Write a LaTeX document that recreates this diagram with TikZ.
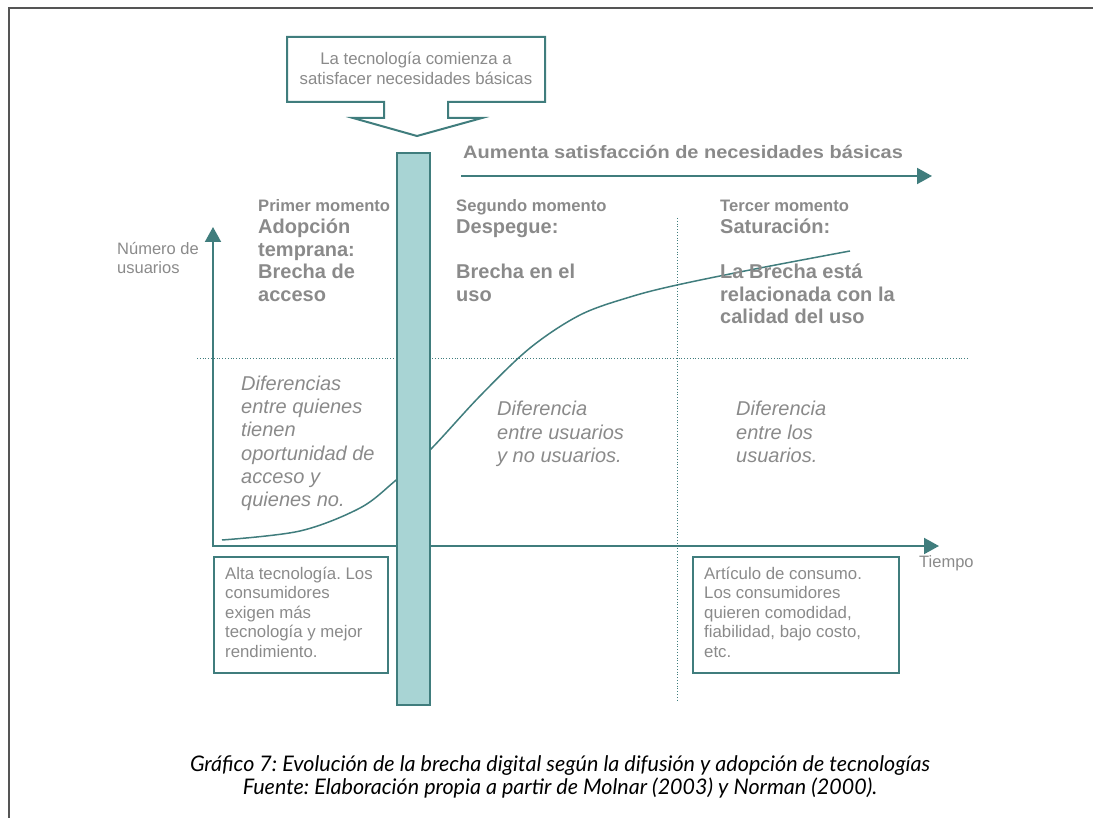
\documentclass[tikz,border=0pt]{standalone}
\usepackage{fontspec}
\setmainfont{Liberation Sans}
\newfontfamily\capfont{Lato}
\usetikzlibrary{arrows.meta}
\definecolor{teal1}{RGB}{64,125,125}
\definecolor{barfill}{RGB}{168,212,212}
\definecolor{txtgray}{RGB}{138,138,138}
\definecolor{framegray}{RGB}{85,85,85}
\newcommand{\ml}[1]{\begin{tabular}[t]{@{}l@{}}#1\end{tabular}}
\frenchspacing
\tikzset{
  tline/.style={draw=teal1, line width=2pt},
  tarrow/.style={draw=teal1, line width=2pt, -{Triangle[length=15pt,width=16pt,fill=teal1]}},
  dotline/.style={draw=teal1, line width=0.8pt, dotted},
  txt/.style={inner sep=0pt, anchor=base west, text=txtgray},
  momento/.style={txt, font=\bfseries\fontsize{16.6}{19}\selectfont},
  head/.style={txt, font=\bfseries\fontsize{20}{22.5}\selectfont},
  diff/.style={txt, font=\itshape\fontsize{20}{23.2}\selectfont},
  boxtxt/.style={txt, font=\fontsize{16.8}{19.5}\selectfont},
  infobox/.style={draw=teal1, line width=2pt, inner sep=0pt, anchor=north west},
}
\begin{document}
\begin{tikzpicture}[x=1pt,y=-1pt]
\useasboundingbox (0,0) rectangle (1093,818);
% outer frame lines
\draw[framegray, line width=1.5pt] (1093,8) -- (9,8) -- (9,818);
% dotted guide lines
\coordinate (dl1) at (197,358);
\coordinate (dl2) at (968,358);
\coordinate (dv1) at (677,218);
\coordinate (dv2) at (677,702);
\draw[dotline] (dl1) -- (dl2);
\draw[dotline] (dv1) -- (dv2);
% curve
\draw[teal1, line width=1.5pt] plot[smooth, tension=0.55] coordinates {(222,540) (300,531) (360,508) (395,481) (430,450) (480,396) (530,348) (580,315) (630,297) (677,285) (760,268) (850,251)};
% axes
\coordinate (org) at (213,546);
\coordinate (ytip) at (213,227);
\coordinate (xtip) at (939,546);
\draw[tarrow] (org) -- (ytip);
\draw[tarrow] ([xshift=-1pt]org) -- (xtip);
% vertical bar
\node[draw=teal1, line width=1.8pt, fill=barfill, minimum width=33pt, minimum height=552pt, inner sep=0pt, anchor=north west] (bar) at (396,152) {};
% top arrow
\coordinate (ta1) at (461,176);
\coordinate (ta2) at (932,176);
\draw[tarrow] (ta1) -- (ta2);
\node[txt, xscale=1.11, font=\bfseries\fontsize{18}{22}\selectfont] (aum) at (463,158.5) {Aumenta satisfacción de necesidades básicas};
% callout
\draw[teal1, line width=2pt, fill=white, line join=miter] (287,37) -- (545,37) -- (545,102) -- (448,102) -- (448,118) -- (482,118) -- (417,136) -- (353,118) -- (384,118) -- (384,102) -- (287,102) -- cycle;
\node[inner sep=0pt, text=txtgray, align=center, font=\fontsize{16.8}{20}\selectfont] (call) at (416,68) {La tecnología comienza a\\satisfacer necesidades básicas};
% axis labels
\node[txt, font=\fontsize{16.5}{19}\selectfont] (ylab) at (117,255) {\ml{Número de\\usuarios}};
\node[txt, font=\fontsize{16.5}{19}\selectfont] (xlab) at (919,567) {Tiempo};
% headings
\node[momento] (m1) at (258,211.5) {Primer momento};
\node[momento] (m2) at (456,211.5) {Segundo momento};
\node[momento] (m3) at (720,211.5) {Tercer momento};
\node[head] (h1) at (258,234) {\ml{Adopción\\temprana:\\Brecha de\\acceso}};
\node[head] (h2) at (456,234) {\ml{Despegue:\\ \\Brecha en el\\uso}};
\node[head] (h3) at (720,234) {\ml{Saturación:\\ \\La Brecha está\\relacionada con la\\calidad del uso}};
% differences
\node[diff] (d1) at (241,390.5) {\ml{Diferencias\\entre quienes\\tienen\\oportunidad de\\acceso y\\quienes no.}};
\node[diff] (d2) at (497,416) {\ml{Diferencia\\entre usuarios\\y no usuarios.}};
\node[diff] (d3) at (736,416) {\ml{Diferencia\\entre los\\usuarios.}};
% bottom boxes
\node[infobox, minimum width=174pt, minimum height=116pt] (b1) at (213,556) {};
\node[boxtxt] (b1t) at (225,579) {\ml{Alta tecnología. Los\\consumidores\\exigen más\\tecnología y mejor\\rendimiento.}};
\node[infobox, minimum width=206pt, minimum height=116pt] (b2) at (692,556) {};
\node[boxtxt] (b2t) at (704,579) {\ml{Artículo de consumo.\\Los consumidores\\quieren comodidad,\\fiabilidad, bajo costo,\\etc.}};
% caption
\node[inner sep=0pt, anchor=base, font=\capfont\itshape\fontsize{21.5}{23}\selectfont] (cap) at (560,771) {\begin{tabular}[t]{@{}c@{}}Gráfico 7: Evolución de la brecha digital según la difusión y adopción de tecnologías\\Fuente: Elaboración propia a partir de Molnar (2003) y Norman (2000).\end{tabular}};
\end{tikzpicture}
\end{document}
